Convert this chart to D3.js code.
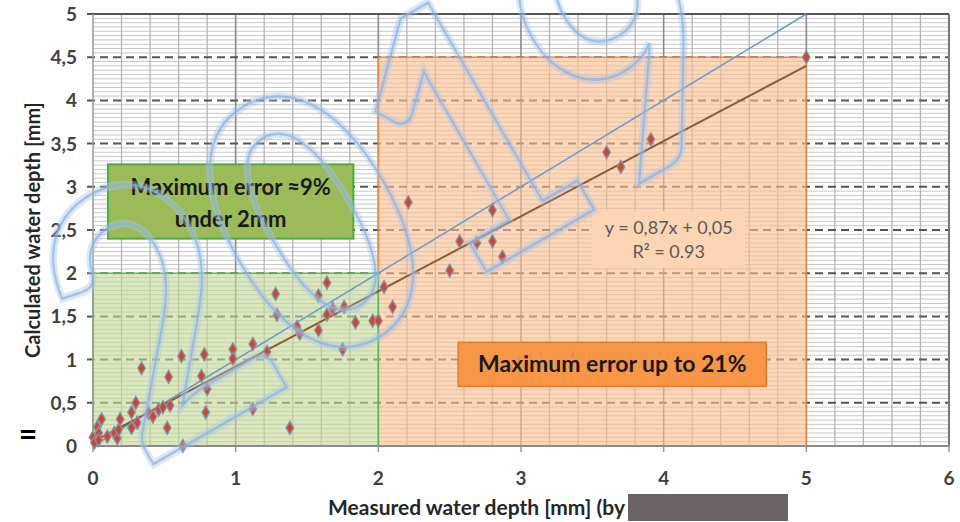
<!DOCTYPE html>
<html>
<head>
<meta charset="utf-8">
<script src="https://cdn.jsdelivr.net/npm/d3@7"></script>
<style>
  body { margin: 0; background: #fff; }
  svg text { font-family: Lato, "Open Sans", sans-serif; }
</style>
</head>
<body>
<div id="chart"></div>
<script>
// measured vs calculated water depth [mm]
const measured = [0.00, 0.01, 0.03, 0.04, 0.06, 0.04, 0.10, 0.15, 0.17, 0.18, 0.19, 0.27, 0.31, 0.27, 0.30,
  0.34, 0.39, 0.42, 0.46, 0.49, 0.54, 0.52, 0.53, 0.62, 0.63, 0.76, 0.78, 0.80, 0.79, 0.98, 0.98, 1.12,
  1.22, 1.12, 1.38, 1.28, 1.29, 1.43, 1.45, 1.58, 1.58, 1.64, 1.64, 1.68, 1.76, 1.75, 1.84, 1.96, 2.00,
  2.04, 2.10, 2.21, 2.50, 2.57, 2.69, 2.80, 2.80, 2.87, 3.60, 3.70, 3.91, 5.00];
const calculated = [0.10, 0.04, 0.22, 0.15, 0.31, 0.07, 0.11, 0.15, 0.09, 0.19, 0.31, 0.21, 0.27, 0.39, 0.50,
  0.90, 0.38, 0.34, 0.42, 0.45, 0.47, 0.21, 0.80, 1.04, 0.00, 0.81, 1.06, 0.66, 0.39, 1.12, 1.01, 1.18,
  1.09, 0.43, 0.21, 1.76, 1.52, 1.38, 1.30, 1.34, 1.74, 1.89, 1.52, 1.59, 1.61, 1.12, 1.43, 1.45, 1.45,
  1.84, 1.61, 2.82, 2.03, 2.37, 2.35, 2.37, 2.73, 2.19, 3.40, 3.23, 3.55, 4.50];

const xTicks = [0, 1, 2, 3, 4, 5, 6];
const yTicks = [0, 0.5, 1, 1.5, 2, 2.5, 3, 3.5, 4, 4.5, 5];
const slope = 0.87, intercept = 0.05;
const eqLabel = ["y = 0,87x + 0,05", "R² = 0.93"];

const width = 960, height = 522;
const margin = {top: 14, right: 11, bottom: 76, left: 93};
const w = width - margin.left - margin.right;
const h = height - margin.top - margin.bottom;

const svg = d3.select("#chart").append("svg")
  .attr("width", width)
  .attr("height", height);

const g = svg.append("g")
  .attr("transform", `translate(${margin.left},${margin.top})`);

const x = d3.scaleLinear().domain([0, 6]).range([0, w]);
const y = d3.scaleLinear().domain([0, 5]).range([h, 0]);
const fmt = d => String(d).replace(".", ",");

// minor horizontal grid
g.selectAll(".hminor")
  .data(d3.range(0.05, 5, 0.05).filter(v => Math.abs(v * 2 - Math.round(v * 2)) > 0.01))
  .join("line")
  .attr("x1", 0).attr("x2", w)
  .attr("y1", d => y(d)).attr("y2", d => y(d))
  .attr("stroke", "#c8c8c8").attr("stroke-width", 1);

// vertical grid every 0.2
g.selectAll(".vgrid")
  .data(d3.range(0.2, 6, 0.2))
  .join("line")
  .attr("x1", d => x(d)).attr("x2", d => x(d))
  .attr("y1", 0).attr("y2", h)
  .attr("stroke", d => Math.abs(d - Math.round(d)) < 0.01 ? "#8a8a8a" : "#b4b4b4")
  .attr("stroke-width", d => Math.abs(d - Math.round(d)) < 0.01 ? 1.6 : 1.3);

// major horizontal dashed grid
g.selectAll(".hmajor")
  .data(yTicks.filter(d => d > 0))
  .join("line")
  .attr("x1", -6).attr("x2", w)
  .attr("y1", d => y(d)).attr("y2", d => y(d))
  .attr("stroke", "#555").attr("stroke-width", 2)
  .attr("stroke-dasharray", "8,5");

// shaded regions
g.append("rect")
  .attr("x", x(2)).attr("y", y(4.5))
  .attr("width", x(5) - x(2)).attr("height", y(0) - y(4.5))
  .attr("fill", "#fbbf8f").attr("fill-opacity", 0.62)
  .attr("stroke", "#e88a45").attr("stroke-width", 1.5);
g.append("rect")
  .attr("x", x(0)).attr("y", y(2))
  .attr("width", x(2) - x(0)).attr("height", y(0) - y(2))
  .attr("fill", "#c5da98").attr("fill-opacity", 0.62)
  .attr("stroke", "#5cb85c").attr("stroke-width", 1.5);

// borders / axes
g.append("line").attr("x1", 0).attr("x2", w).attr("y1", 0).attr("y2", 0)
  .attr("stroke", "#555").attr("stroke-width", 2);
g.append("line").attr("x1", w).attr("x2", w).attr("y1", 0).attr("y2", h)
  .attr("stroke", "#777").attr("stroke-width", 2);
g.append("line").attr("x1", 0).attr("x2", w).attr("y1", h).attr("y2", h)
  .attr("stroke", "#8a8a8a").attr("stroke-width", 2);
g.append("line").attr("x1", 0).attr("x2", 0).attr("y1", 0).attr("y2", h)
  .attr("stroke", "#999").attr("stroke-width", 1.5);

g.selectAll(".xtick")
  .data(xTicks)
  .join("line")
  .attr("x1", d => x(d)).attr("x2", d => x(d))
  .attr("y1", h).attr("y2", h + 6)
  .attr("stroke", "#999").attr("stroke-width", 1.5);

g.selectAll(".xlabel")
  .data(xTicks)
  .join("text")
  .attr("x", d => x(d)).attr("y", h + 39)
  .attr("text-anchor", "middle")
  .attr("font-size", 19).attr("font-weight", "bold").attr("fill", "#404040")
  .text(d => d);

g.selectAll(".ylabel")
  .data(yTicks)
  .join("text")
  .attr("x", -16).attr("y", d => y(d) + 7)
  .attr("text-anchor", "end")
  .attr("font-size", 19).attr("font-weight", "bold").attr("fill", "#404040")
  .text(d => fmt(d));

// annotation boxes
g.append("rect")
  .attr("x", x(0.105)).attr("y", y(3.26))
  .attr("width", x(1.825) - x(0.105)).attr("height", y(2.4) - y(3.26))
  .attr("fill", "#9bbb59").attr("stroke", "#4caf3c").attr("stroke-width", 2);
g.append("text")
  .attr("x", x(0.965)).attr("y", y(3.26) + 31)
  .attr("text-anchor", "middle").attr("font-size", 22).attr("font-weight", "bold").attr("fill", "#1a1a1a")
  .text("Maximum error ≈9%");
g.append("text")
  .attr("x", x(0.965)).attr("y", y(3.26) + 63)
  .attr("text-anchor", "middle").attr("font-size", 22).attr("font-weight", "bold").attr("fill", "#1a1a1a")
  .text("under 2mm");

g.append("rect")
  .attr("x", x(2.56)).attr("y", y(1.2))
  .attr("width", x(4.72) - x(2.56)).attr("height", y(0.69) - y(1.2))
  .attr("fill", "#f79646").attr("stroke", "#e3782d").attr("stroke-width", 1.5);
g.append("text")
  .attr("x", x(3.64)).attr("y", y(1.2) + 30)
  .attr("text-anchor", "middle").attr("font-size", 23).attr("font-weight", "bold").attr("fill", "#1a1a1a")
  .text("Maximum error up to 21%");

g.append("rect")
  .attr("x", x(3.5)).attr("y", y(2.72))
  .attr("width", x(4.57) - x(3.5)).attr("height", y(2.06) - y(2.72))
  .attr("fill", "#fcd5b4");
g.selectAll(".eq")
  .data(eqLabel)
  .join("text")
  .attr("x", x(4.035)).attr("y", (d, i) => y(2.72) + 23 + i * 24)
  .attr("text-anchor", "middle").attr("font-size", 18).attr("fill", "#595959")
  .text(d => d);

// 1:1 line and trend line
const line = d3.line().x(d => x(d[0])).y(d => y(d[1]));
g.append("path")
  .attr("d", line([[0, 0], [5, 5]]))
  .attr("stroke", "#6a98d0").attr("stroke-width", 1.5).attr("fill", "none");
g.append("path")
  .attr("d", line([[0, intercept], [5, slope * 5 + intercept]]))
  .attr("stroke", "#8b5a3a").attr("stroke-width", 2).attr("fill", "none");

// points
const pts = measured.map((m, i) => [m, calculated[i]]);
g.selectAll(".pt")
  .data(pts)
  .join("path")
  .attr("d", d3.symbol(d3.symbolDiamond, 48))
  .attr("transform", d => `translate(${x(d[0])},${y(d[1])})`)
  .attr("fill", "#d9412b").attr("stroke", "#7f93a8").attr("stroke-width", 1.4);

// axis titles
svg.append("text")
  .attr("transform", `translate(40,230) rotate(-90)`)
  .attr("text-anchor", "middle").attr("font-size", 20).attr("font-weight", "bold").attr("fill", "#262626")
  .text("Calculated water depth [mm]");
svg.append("text")
  .attr("x", 625).attr("y", 515)
  .attr("text-anchor", "end").attr("font-size", 21).attr("font-weight", "bold").attr("fill", "#262626")
  .text("Measured water depth [mm] (by");
svg.append("rect")
  .attr("x", 628).attr("y", 494).attr("width", 160).attr("height", 27)
  .attr("fill", "#6a6466");
svg.append("text")
  .attr("x", 28).attr("y", 446)
  .attr("text-anchor", "middle").attr("font-size", 32).attr("font-weight", "bold").attr("fill", "#000")
  .text("=");

// watermark
const wm = svg.append("g")
  .attr("transform", "translate(455,290) rotate(-30) scale(0.9,1.05)")
  .attr("opacity", 0.8);
wm.append("text")
  .attr("text-anchor", "middle")
  .attr("font-size", 345).attr("font-weight", "bold")
  .attr("fill", "none").attr("stroke", "#a9c6ea").attr("stroke-width", 8)
  .attr("stroke-opacity", 0.5)
  .text("2019");
wm.append("text")
  .attr("text-anchor", "middle")
  .attr("font-size", 345).attr("font-weight", "bold")
  .attr("fill", "none").attr("stroke", "#8fb4e3").attr("stroke-width", 2.5)
  .text("2019");
</script>
</body>
</html>
